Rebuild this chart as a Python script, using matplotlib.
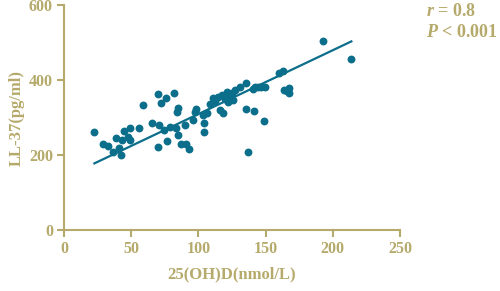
import matplotlib as mpl
mpl.use("Agg")
import matplotlib.pyplot as plt
import numpy as np

# colours
axis_color = "#B5AA6B"
dot_color = "#0B6E8A"

# 25(OH)D (nmol/L) and LL-37 (pg/ml) values
vitd = [22.6, 28.8, 33.0, 36.2, 38.7, 41.1, 42.4, 42.9, 44.9, 47.9,
        49.1, 49.1, 56.0, 59.0, 65.2, 69.7, 70.2, 71.0, 72.2, 74.6,
        76.0, 76.4, 78.9, 82.1, 83.3, 83.8, 84.6, 85.0, 86.8, 90.0,
        90.8, 93.2, 96.2, 97.5, 98.2, 103.7, 104.2, 104.2, 106.2, 108.6,
        111.1, 112.3, 114.8, 116.1, 117.3, 118.5, 119.8, 121.0, 122.3, 123.5,
        124.8, 126.0, 127.2, 131.0, 135.2, 135.7, 136.7, 140.4, 141.4, 142.1,
        144.6, 146.4, 149.6, 149.0, 160.2, 163.2, 163.9, 165.6, 167.6, 167.6,
        192.5, 213.8]
ll37 = [262, 229, 224, 209, 245, 218, 200, 240, 265, 249,
        272, 240, 272, 334, 287, 223, 363, 281, 340, 267,
        354, 239, 276, 366, 272, 316, 327, 254, 230, 281,
        230, 216, 294, 316, 323, 307, 261, 285, 313, 337,
        352, 344, 355, 321, 361, 312, 349, 370, 343, 356,
        365, 348, 374, 381, 392, 323, 208, 376, 319, 381,
        381, 381, 383, 290, 419, 426, 374, 372, 379, 367,
        504, 458]

# fitted line
fit_slope = 1.705
fit_intercept = 139.5

xticks = [0, 50, 100, 150, 200, 250]
yticks = [0, 200, 400, 600]

plt.rcParams['font.family'] = ['Liberation Serif', 'DejaVu Serif']
plt.rcParams['font.weight'] = 'bold'
plt.rcParams['mathtext.fontset'] = 'custom'
plt.rcParams['mathtext.it'] = 'Liberation Serif:italic:bold'
plt.rcParams['mathtext.rm'] = 'Liberation Serif:bold'

fig = plt.figure(figsize=(5, 2.91), dpi=100)
ax = fig.add_axes([0.128, 0.2096, 0.672, 0.7715])

ax.scatter(vitd, ll37, s=32, color=dot_color, linewidths=0, zorder=3)

xs = np.array([min(vitd), max(vitd)])
ax.plot(xs, fit_slope * xs + fit_intercept, color=dot_color, lw=1.6, zorder=2)

ax.set_xlim(0, 250)
ax.set_ylim(0, 600)
ax.set_xticks(xticks)
ax.set_yticks(yticks)

for side in ['top', 'right']:
    ax.spines[side].set_visible(False)
for side in ['left', 'bottom']:
    ax.spines[side].set_color(axis_color)
    ax.spines[side].set_linewidth(1.5)

ax.tick_params(colors=axis_color, width=1.5, length=5, labelsize=11.5, pad=3)
for lab in ax.get_xticklabels() + ax.get_yticklabels():
    lab.set_fontweight('bold')

ax.set_xlabel("25(OH)D(nmol/L)", color=axis_color, fontsize=12, fontweight='bold', labelpad=7)
ax.set_ylabel("LL-37(pg/ml)", color=axis_color, fontsize=12, fontweight='bold', labelpad=3)

fig.text(0.852, 0.962, "$r$ = 0.8", color=axis_color, fontsize=13, fontweight='bold', va='center')
fig.text(0.852, 0.888, "$P$ < 0.001", color=axis_color, fontsize=13, fontweight='bold', va='center')

fig.savefig("out.png", dpi=100)
